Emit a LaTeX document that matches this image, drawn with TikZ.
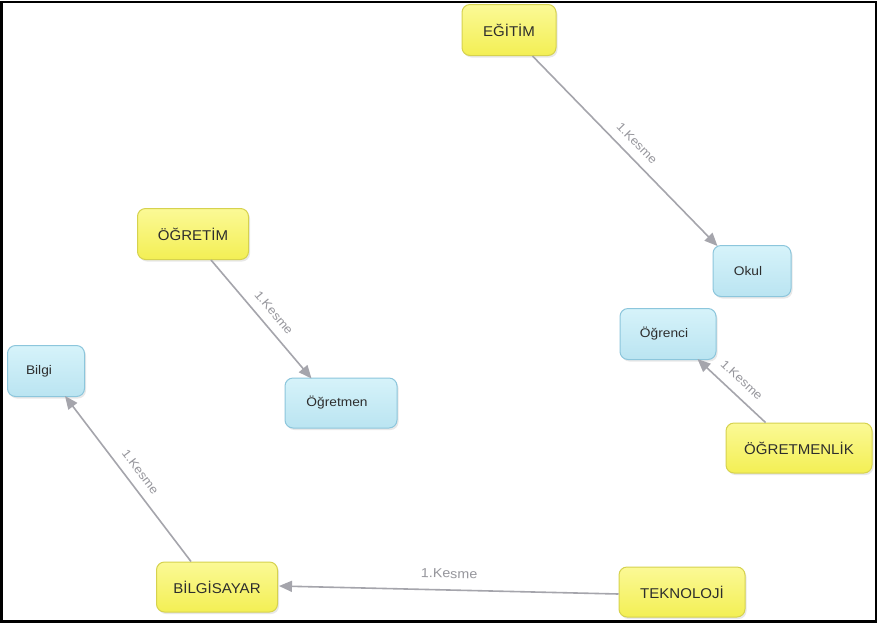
\documentclass[tikz,border=0pt]{standalone}
\usepackage{fontspec}
\setmainfont{Liberation Sans}
\newfontfamily\boxfont[FakeStretch=1.06]{Liberation Sans}
\newfontfamily\termfont[FakeStretch=1.1]{Liberation Sans}
\usetikzlibrary{arrows.meta,shadows}

\definecolor{conceptlight}{RGB}{251,249,150}
\definecolor{conceptfill}{RGB}{243,239,84}
\definecolor{conceptline}{RGB}{214,210,78}
\definecolor{termlight}{RGB}{214,243,250}
\definecolor{termfill}{RGB}{186,228,241}
\definecolor{termline}{RGB}{140,198,220}
\definecolor{linkgray}{RGB}{165,165,172}
\definecolor{labelgray}{RGB}{150,150,156}
\definecolor{boxtext}{RGB}{45,45,45}

% shift a term's text slightly left inside its box
\newcommand{\lefttext}[1]{\hspace*{-8pt}#1}

\tikzset{
  concept/.style={draw=conceptline, top color=conceptlight, bottom color=conceptfill,
    line width=1pt, rounded corners=8pt, align=center, inner sep=0pt,
    text=boxtext, font=\boxfont\fontsize{14.2}{16}\selectfont,
    drop shadow={shadow xshift=1.5pt, shadow yshift=-2pt, opacity=0.18}},
  term/.style={draw=termline, top color=termlight, bottom color=termfill,
    line width=1pt, rounded corners=8pt, align=center, inner sep=0pt,
    text=boxtext, font=\termfont\fontsize{12.5}{14}\selectfont,
    drop shadow={shadow xshift=1.5pt, shadow yshift=-2pt, opacity=0.18}},
  link/.style={draw=linkgray, line width=1.6pt,
    -{Triangle[length=13pt,width=11pt]}},
  linklabel/.style={sloped, above, inner sep=9pt,
    text=labelgray, font=\termfont\fontsize{12}{14}\selectfont}
}

\begin{document}
\begin{tikzpicture}[x=1pt,y=-1pt]
  \useasboundingbox (0,0) rectangle (878,625);
  \fill[white] (0,0) rectangle (878,625);
  \draw[black, line width=2.6pt] (1.8,1.8) rectangle (876,621.5);

  % concepts (yellow)
  \node[concept, minimum width=94pt, minimum height=51pt] (egitim) at (509,30) {EĞİTİM};
  \node[concept, minimum width=111pt, minimum height=51pt] (ogretim) at (193,234) {ÖĞRETİM};
  \node[concept, minimum width=146pt, minimum height=50pt] (ogretmenlik) at (799,448) {ÖĞRETMENLİK};
  \node[concept, minimum width=121pt, minimum height=50pt] (bilgisayar) at (217,587) {BİLGİSAYAR};
  \node[concept, minimum width=126pt, minimum height=50pt] (teknoloji) at (682,592) {TEKNOLOJİ};

  % terms (blue)
  \node[term, minimum width=78pt, minimum height=51pt] (okul) at (752,271) {\lefttext{Okul}};
  \node[term, minimum width=96pt, minimum height=51pt] (ogrenci) at (668,334) {\lefttext{Öğrenci}};
  \node[term, minimum width=112pt, minimum height=50pt] (ogretmen) at (341,403) {\lefttext{Öğretmen}};
  \node[term, minimum width=77pt, minimum height=51pt] (bilgi) at (46,371) {\hspace*{-14pt}Bilgi};

  % links
  \draw[link] ([xshift=-24pt]egitim.south east) -- ([xshift=5pt,yshift=-1pt]okul.north west)
    node[linklabel, pos=0.51] {1.Kesme};
  \draw[link] ([xshift=18pt]ogretim.south) -- ([xshift=27pt,yshift=-1pt]ogretmen.north west)
    node[linklabel, pos=0.52] {1.Kesme};
  \draw[link] ([xshift=40pt]ogretmenlik.north west) -- ([xshift=-19pt,yshift=1pt]ogrenci.south east)
    node[linklabel, pos=0.5, inner sep=10pt] {1.Kesme};
  \draw[link] ([xshift=35pt]bilgisayar.north west) -- ([xshift=-20pt,yshift=1pt]bilgi.south east)
    node[linklabel, pos=0.49] {1.Kesme};
  \draw[link] ([yshift=-2pt]teknoloji.west) -- ([xshift=1pt,yshift=1pt]bilgisayar.east)
    node[linklabel, pos=0.5, inner sep=11pt, font=\termfont\fontsize{13}{15}\selectfont] {1.Kesme};
\end{tikzpicture}
\end{document}
